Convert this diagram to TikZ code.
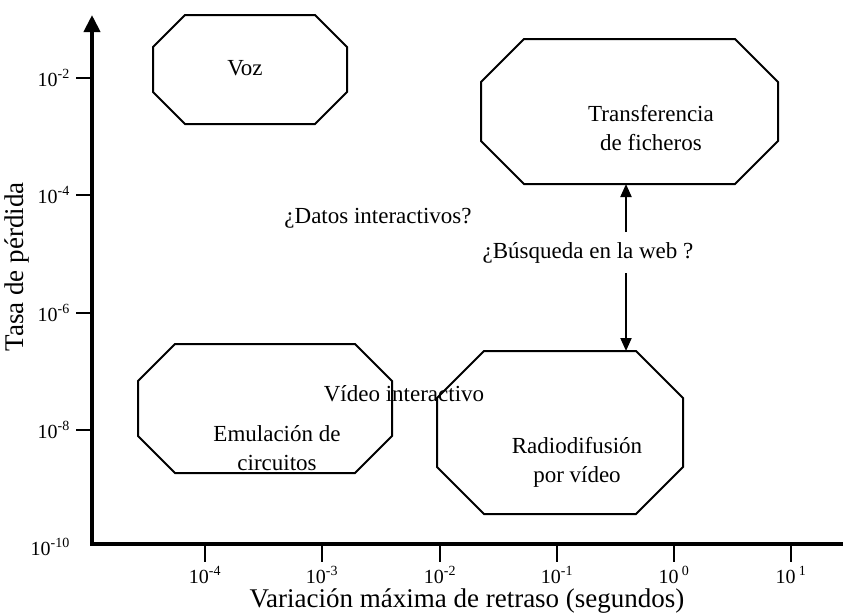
\documentclass[tikz,border=0pt]{standalone}
\usepackage{fontspec}
\setmainfont{Liberation Serif}
\usetikzlibrary{arrows.meta}

\tikzset{
  axisline/.style={line width=4pt, {Triangle[length=17pt,width=16pt]}-{Triangle[length=17pt,width=16pt]}},
  tickline/.style={line width=2pt},
  octline/.style={line width=2pt, line join=miter},
  areabox/.style={inner sep=0pt, outer sep=0pt, draw=none},
  body/.style={font=\fontsize{23}{29}\selectfont, align=center, inner sep=0pt},
  ticklabel/.style={font=\fontsize{20}{22}\selectfont, inner sep=0pt},
  axislabel/.style={font=\fontsize{27}{32}\selectfont, inner sep=0pt},
  linkarrow/.style={line width=2pt, -{Triangle[length=13pt,width=11pt]}}
}

% octagon spanning (x1,y1)-(x2,y2) with corner cut #6, plus a named box node
\newcommand{\octbox}[6]{%
  \node[areabox, minimum width={(#4-#2)*1pt}, minimum height={(#5-#3)*1pt}]
    (#1) at ({(#2+#4)/2},{(#3+#5)/2}) {};
  \draw[octline] ({#2+#6},#3) -- ({#4-#6},#3) -- (#4,{#3+#6}) -- (#4,{#5-#6})
    -- ({#4-#6},#5) -- ({#2+#6},#5) -- (#2,{#5-#6}) -- (#2,{#3+#6}) -- cycle;
}

\begin{document}
\begin{tikzpicture}[x=1pt, y=-1pt]
  \useasboundingbox (0,0) rectangle (843,614);

  % axes
  \coordinate (origin) at (92,544);
  \coordinate (ytip) at (92,15);
  \coordinate (xtip) at (860,544);
  \draw[axisline] (ytip) -- (origin) -- (xtip);

  % vertical ticks and labels
  \foreach \yy/\ex in {78/-2, 195/-4, 313/-6, 430/-8} {
    \draw[tickline] (76,\yy) -- (92,\yy);
    \node[ticklabel, anchor=east] at (70,\yy) {10\textsuperscript{\ex}};
  }
  \node[ticklabel, anchor=east] at (70,547) {10\textsuperscript{-10}};

  % horizontal ticks and labels
  \foreach \xx/\ex in {205/-4, 322/-3, 440/-2, 557/-1} {
    \draw[tickline] (\xx,546) -- (\xx,562);
    \node[ticklabel] at (\xx,575) {10\textsuperscript{\ex}};
  }
  \foreach \xx/\ex in {674/0, 791/1} {
    \draw[tickline] (\xx,546) -- (\xx,562);
    \node[ticklabel] at (\xx,575) {10\,\textsuperscript{\ex}};
  }

  % axis titles
  \node[axislabel] (xtitle) at (467,601) {Variación máxima de retraso (segundos)};
  \node[axislabel, rotate=90] (ytitle) at (17,267) {Tasa de pérdida};

  % application regions
  \octbox{voz}{153}{15}{347}{124}{32}
  \octbox{transf}{481}{39}{778}{184}{43}
  \octbox{emul}{138}{344}{392}{473}{37}
  \octbox{radio}{437}{351}{683}{514}{47}

  \node[body] (tvoz) at (245,68) {Voz};
  \node[body] (ttransf) at (651,128) {Transferencia\\de ficheros};
  \node[body] (temul) at (277,448) {Emulación de\\circuitos};
  \node[body] (tradio) at (577,462) {Radiodifusión\\por vídeo};
  \node[body] (video) at (404,394) {Vídeo interactivo};
  \node[body] (datos) at (378,218) {¿Datos interactivos?};
  \node[body] (busq) at (588,253) {¿Búsqueda en la web ?};

  % uncertain range for web browsing
  \coordinate (lane) at (626,0);
  \draw[linkarrow] ([yshift=21pt]busq.center -| lane) -- (transf.south -| lane);
  \draw[linkarrow] ([yshift=-20pt]busq.center -| lane) -- (radio.north -| lane);
\end{tikzpicture}
\end{document}
